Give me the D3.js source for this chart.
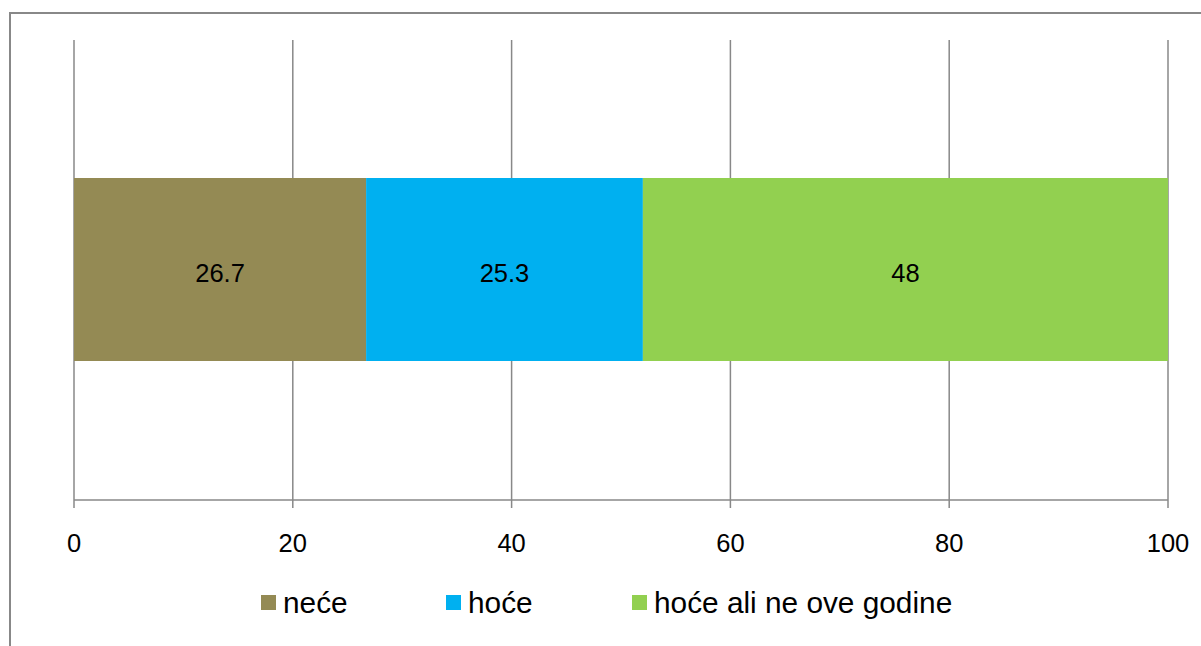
<!DOCTYPE html>
<html><head><meta charset="utf-8">
<script src="https://cdn.jsdelivr.net/npm/d3@7"></script>
<style>body{margin:0;background:#fff;} svg{display:block;}</style>
</head><body>
<script>
const categories = ["neće", "hoće", "hoće ali ne ove godine"];
const values = [26.7, 25.3, 48];
const colors = ["#948A54", "#00B0F0", "#92D050"];
const ticks = [0, 20, 40, 60, 80, 100];

const W = 1201, H = 646;
const svg = d3.select("body").append("svg").attr("width", W).attr("height", H);
const font = "Liberation Sans, Arial, sans-serif";

// outer chart border
svg.append("path").attr("d", `M10,${H+5} L10,13 L${W+5},13`)
  .attr("fill", "none").attr("stroke", "#888").attr("stroke-width", 2);

const x = d3.scaleLinear().domain([0, 100]).range([74, 1168]);
const yTop = 40, yAxis = 500;

// gridlines
svg.append("g").selectAll("line").data(ticks).join("line")
  .attr("x1", d => x(d)).attr("x2", d => x(d))
  .attr("y1", yTop).attr("y2", yAxis + 8)
  .attr("stroke", "#888").attr("stroke-width", 1.5);

// stacked bars
let acc = 0;
const stack = values.map((v, i) => { const s = {x0: acc, x1: acc + v, v, c: colors[i]}; acc += v; return s; });
const by = 178, bh = 183;
svg.append("g").selectAll("rect").data(stack).join("rect")
  .attr("x", d => x(d.x0)).attr("width", d => x(d.x1) - x(d.x0))
  .attr("y", by).attr("height", bh).attr("fill", d => d.c);
svg.append("g").selectAll("text").data(stack).join("text")
  .attr("x", d => (x(d.x0) + x(d.x1)) / 2).attr("y", 282)
  .attr("text-anchor", "middle").attr("font-family", font).attr("font-size", 25.5)
  .attr("fill", "#000").text(d => d.v);

// axis line
svg.append("line").attr("x1", x(0)).attr("x2", x(100)).attr("y1", yAxis).attr("y2", yAxis)
  .attr("stroke", "#888").attr("stroke-width", 1.5);
// tick labels
svg.append("g").selectAll("text").data(ticks).join("text")
  .attr("x", d => x(d)).attr("y", 552).attr("text-anchor", "middle")
  .attr("font-family", font).attr("font-size", 25.5).attr("fill", "#000").text(d => d);

// legend
const legX = [261, 446, 632];
const lg = svg.append("g").selectAll("g").data(categories).join("g")
  .attr("transform", (d, i) => `translate(${legX[i]},595)`);
lg.append("rect").attr("width", 15).attr("height", 15).attr("fill", (d, i) => colors[i]);
lg.append("text").attr("x", 22).attr("y", 18).attr("font-family", font).attr("font-size", 29.8)
  .attr("fill", "#000").text(d => d);
</script>
</body></html>
